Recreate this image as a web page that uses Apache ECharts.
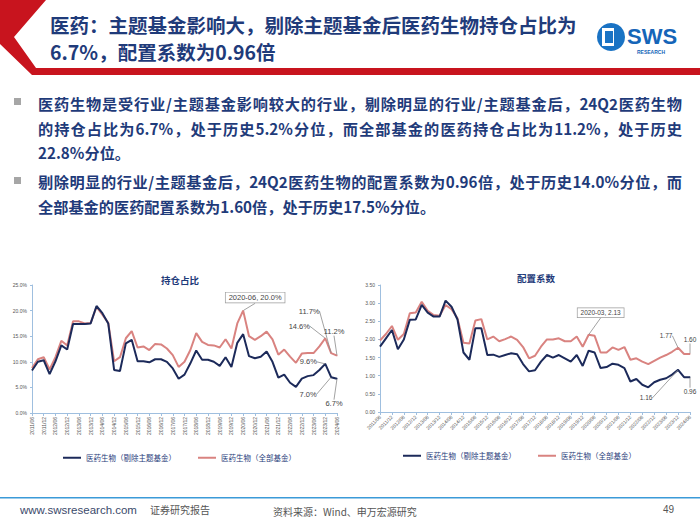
<!DOCTYPE html>
<html><head><meta charset="utf-8">
<script src="https://cdn.jsdelivr.net/npm/echarts@6/dist/echarts.min.js"></script>
<style>
html,body{margin:0;padding:0;background:#fff}
#wrap{position:relative;width:700px;height:525px}
#c{position:absolute;left:0;top:0;width:700px;height:525px}
.ln{position:absolute;left:38px;width:644px;font:bold 15.2px "Noto Sans CJK SC";color:#1f3b7a;line-height:20px;height:20px;text-align:justify;text-align-last:justify;white-space:normal}
.ln.last{text-align:left;text-align-last:left}
</style>
</head><body><div id="wrap"><div id="c"></div>
<div class="ln" style="top:93px">医药生物是受行业/主题基金影响较大的行业，剔除明显的行业/主题基金后，24Q2医药生物</div>
<div class="ln" style="top:118px">的持仓占比为6.7%，处于历史5.2%分位，而全部基金的医药持仓占比为11.2%，处于历史</div>
<div class="ln last" style="top:142px">22.8%分位。</div>
<div class="ln" style="top:171px">剔除明显的行业/主题基金后，24Q2医药生物的配置系数为0.96倍，处于历史14.0%分位，而</div>
<div class="ln last" style="top:196px">全部基金的医药配置系数为1.60倍，处于历史17.5%分位。</div>
</div>
<script>
const categories = ['2011/06','2011/09','2011/12','2012/03','2012/06','2012/09','2012/12','2013/03','2013/06','2013/09','2013/12','2014/03','2014/06','2014/09','2014/12','2015/03','2015/06','2015/09','2015/12','2016/03','2016/06','2016/09','2016/12','2017/03','2017/06','2017/09','2017/12','2018/03','2018/06','2018/09','2018/12','2019/03','2019/06','2019/09','2019/12','2020/03','2020/06','2020/09','2020/12','2021/03','2021/06','2021/09','2021/12','2022/03','2022/06','2022/09','2022/12','2023/03','2023/06','2023/09','2023/12','2024/03','2024/06'];
const shareExTheme = [8.3,10.0,10.3,7.6,10.1,13.2,12.4,17.4,17.4,17.4,17.5,20.9,19.5,17.5,8.4,8.2,13.6,14.3,10.1,10.1,9.9,10.5,10.5,10.0,8.7,6.7,7.5,9.7,12.2,10.4,10.4,10.0,9.2,10.9,9.0,13.7,15.4,11.1,10.7,11.0,12.0,10.0,6.9,7.5,5.9,5.1,6.7,7.2,7.4,8.4,9.6,7.0,6.7];
const shareAll = [8.8,10.5,10.9,8.5,10.9,14.1,13.2,17.9,17.9,17.5,17.6,20.7,19.2,17.6,10.1,10.9,14.6,16.0,12.8,13.0,12.3,13.5,13.4,12.6,11.3,9.0,10.0,12.3,15.6,13.9,13.3,13.2,12.8,14.4,12.6,17.5,20.0,15.0,14.3,15.0,15.9,14.4,11.4,12.4,11.0,9.8,11.6,11.7,11.7,13.0,14.6,11.7,11.2];
const coefExTheme = [1.80,2.03,2.26,1.73,2.00,2.54,2.55,2.95,2.74,2.63,2.63,3.07,2.90,2.55,1.64,1.44,2.31,2.31,1.57,1.58,1.52,1.57,1.62,1.59,1.32,1.12,1.15,1.39,1.57,1.50,1.57,1.48,1.39,1.57,1.27,1.69,1.64,1.21,1.24,1.33,1.30,1.21,0.84,0.91,0.75,0.68,0.82,0.89,0.93,1.03,1.16,0.96,0.96];
const coefAll = [1.97,2.15,2.37,1.99,2.15,2.72,2.74,3.04,2.79,2.67,2.65,2.95,2.83,2.58,1.91,1.89,2.52,2.56,2.00,2.08,1.95,2.01,2.08,1.99,1.79,1.48,1.55,1.80,2.00,2.00,2.03,1.95,1.95,2.08,1.80,2.13,2.10,1.64,1.64,1.78,1.71,1.79,1.44,1.48,1.39,1.32,1.41,1.50,1.57,1.66,1.77,1.60,1.60];
const shareTickLabels = ['0.0%','5.0%','10.0%','15.0%','20.0%','25.0%'];
const coefTickLabels = ['0.00','0.50','1.00','1.50','2.00','2.50','3.00','3.50'];
const seriesNames = ['医药生物（剔除主题基金）','医药生物（全部基金）'];
const chartTitles = ['持仓占比','配置系数'];
const headerLines = ['医药：主题基金影响大，剔除主题基金后医药生物持仓占比为','6.7%，配置系数为0.96倍'];
// annotated points: data index -> label text
const shareAllNotes = {36:'2020-06, 20.0%', 50:'14.6%', 51:'11.7%', 52:'11.2%'};
const shareExNotes = {50:'9.6%', 51:'7.0%', 52:'6.7%'};
const coefAllNotes = {35:'2020-03, 2.13', 50:'1.77', 52:'1.60'};
const coefExNotes = {50:'1.16', 52:'0.96'};

const NAVY = '#1c2a5a', ROSE = '#d98380';
// label centre offsets (px) from the annotated point
const offsets = {
  shareAll: {36:[12,-13], 50:[-26,-12], 51:[-22,-42], 52:[-3,-24]},
  shareEx: {50:[-17,-2], 51:[-23,17], 52:[-3,25]},
  coefAll: {35:[12,-22], 50:[-12,-12], 52:[0,-14]},
  coefEx: {50:[-32,28], 52:[0,14]}
};
const guide = {show:true, showAbove:true, smooth:false, length2:0, lineStyle:{color:'#8a8a8a', width:0.8}};
function mk(values, notes, boxIdx, fs){
  return values.map((v,i)=>{
    if(notes[i]===undefined) return v;
    const boxed = i===boxIdx;
    return {value:v, symbol:'circle', symbolSize:1, labelLine:guide,
      label:{show:true, position:'top', distance:0,
      formatter:notes[i], fontSize:fs, color:'#444', fontFamily:'Liberation Sans, Arial',
      backgroundColor: boxed?'#fff':'transparent', borderColor: boxed?'#9a9a9a':'transparent', borderWidth: boxed?0.7:0, padding: boxed?[1,3]:[0,0]}};
  });
}
function layoutFn(map){
  return p => {
    const o = map[p.dataIndex];
    if(!o) return {};
    const cx = p.rect.x + p.rect.width/2, cy = p.rect.y + p.rect.height/2;
    return {x: cx + o[0], y: cy + o[1], align:'center', verticalAlign:'middle'};
  };
}
function lineSeries(name, color, xi, values, notes, boxIdx, fs, offs, z){
  return {type:'line', name, xAxisIndex:xi, yAxisIndex:xi, symbol:'none', showSymbol:true, showAllSymbol:true, z,
    lineStyle:{color, width:2}, itemStyle:{color}, data: mk(values, notes, boxIdx, fs),
    labelLine:guide,
    labelLayout: layoutFn(offs), animation:false};
}
const axisCommon = {axisLine:{lineStyle:{color:'#9fbfdf', width:1}}, splitLine:{show:false}};
const chart = echarts.init(document.getElementById('c'), null, {renderer:'svg'});
const txt = (text, x, y, font, fill, extra) => ({type:'text', style:Object.assign({text, x, y, font, fill, verticalAlign:'middle'}, extra||{})});
chart.setOption({
  backgroundColor:'#fff',
  animation:false,
  title:[
    {text:chartTitles[0], left:175, top:270, textAlign:'center', textStyle:{fontSize:9.5, fontWeight:'bold', color:'#1f3b7a', fontFamily:'Noto Sans CJK SC'}},
    {text:chartTitles[1], left:531, top:268, textAlign:'center', textStyle:{fontSize:9.5, fontWeight:'bold', color:'#1f3b7a', fontFamily:'Noto Sans CJK SC'}}
  ],
  legend:[
    {data:seriesNames, left:58, top:449, icon:'rect', itemWidth:18, itemHeight:2, itemGap:22, textStyle:{fontSize:7.5, color:'#1f3b7a', fontFamily:'Noto Sans CJK SC'}, selectedMode:false},
    {data:seriesNames, left:398, top:447, icon:'rect', itemWidth:18, itemHeight:2, itemGap:22, textStyle:{fontSize:7.5, color:'#1f3b7a', fontFamily:'Noto Sans CJK SC'}, selectedMode:false}
  ],
  grid:[
    {left:32, right:363, top:285, bottom:112},
    {left:380, right:10, top:285, bottom:113}
  ],
  xAxis:[
    Object.assign({type:'category', gridIndex:0, data:categories, boundaryGap:false,
      axisTick:{show:true, interval:1, length:3, lineStyle:{color:'#9fbfdf'}},
      axisLabel:{interval:1, rotate:90, fontSize:5, color:'#555', margin:4}}, axisCommon),
    Object.assign({type:'category', gridIndex:1, data:categories, boundaryGap:false,
      axisTick:{show:true, interval:1, length:3, lineStyle:{color:'#9fbfdf'}},
      axisLabel:{interval:1, rotate:45, fontSize:5, color:'#555', margin:4}}, axisCommon)
  ],
  yAxis:[
    Object.assign({type:'value', gridIndex:0, min:0, max:25, interval:5, axisTick:{show:true, length:2, lineStyle:{color:'#9fbfdf'}},
      axisLabel:{fontSize:5, color:'#555', margin:5, formatter:(v)=>shareTickLabels[Math.round(v/5)]}}, axisCommon, {axisLine:{show:true, lineStyle:{color:'#9fbfdf'}}}),
    Object.assign({type:'value', gridIndex:1, min:0, max:3.5, interval:0.5, axisTick:{show:true, length:2, lineStyle:{color:'#9fbfdf'}},
      axisLabel:{fontSize:5, color:'#555', margin:5, formatter:(v)=>coefTickLabels[Math.round(v/0.5)]}}, axisCommon, {axisLine:{show:true, lineStyle:{color:'#9fbfdf'}}})
  ],
  series:[
    lineSeries(seriesNames[1], ROSE, 0, shareAll, shareAllNotes, 36, 7.5, offsets.shareAll, 2),
    lineSeries(seriesNames[0], NAVY, 0, shareExTheme, shareExNotes, -1, 7.5, offsets.shareEx, 3),
    lineSeries(seriesNames[1], ROSE, 1, coefAll, coefAllNotes, 35, 6.5, offsets.coefAll, 2),
    lineSeries(seriesNames[0], NAVY, 1, coefExTheme, coefExNotes, -1, 6.5, offsets.coefEx, 3)
  ],
  graphic:[
    {type:'polygon', shape:{points:[[0,0],[46,0],[14,37],[36,68],[700,68],[700,75],[32,75],[0,44]]}, style:{fill:'#c8141e'}, silent:true},
    txt(headerLines[0], 50, 24, 'bold 19.5px "Noto Sans CJK SC"', '#1f3b7a'),
    txt(headerLines[1], 50, 51, 'bold 19.5px "Noto Sans CJK SC"', '#1f3b7a'),
    {type:'circle', shape:{cx:611, cy:37, r:14}, style:{fill:'#1a73c4'}, silent:true},
    {type:'rect', shape:{x:602, y:28, width:12, height:18}, style:{fill:'#fff'}, silent:true},
    {type:'rect', shape:{x:605, y:31, width:8, height:12}, style:{fill:'#1a73c4'}, silent:true},
    txt('SWS', 627, 36, 'bold 22px "Liberation Sans"', '#1565b8'),
    txt('RESEARCH', 637, 52, 'bold 5px "Liberation Sans"', '#1565b8'),
    {type:'rect', shape:{x:14, y:98, width:7, height:7}, style:{fill:'#a6a6a6'}, silent:true},
    {type:'rect', shape:{x:14, y:177, width:7, height:7}, style:{fill:'#a6a6a6'}, silent:true},
    {type:'rect', shape:{x:0, y:497, width:700, height:1.5}, style:{fill:'#3b9ad8'}, silent:true},
    txt('www.swsresearch.com', 20, 510, '11.5px "Liberation Sans"', '#3b4a6b'),
    txt('证券研究报告', 150, 509, '10px "Noto Sans CJK SC"', '#555'),
    txt('资料来源：Wind、申万宏源研究', 273, 511, '10px "Noto Sans CJK SC"', '#555'),
    txt('49', 663, 509, '10px "Liberation Sans"', '#555')
  ]
});
</script></body></html>
